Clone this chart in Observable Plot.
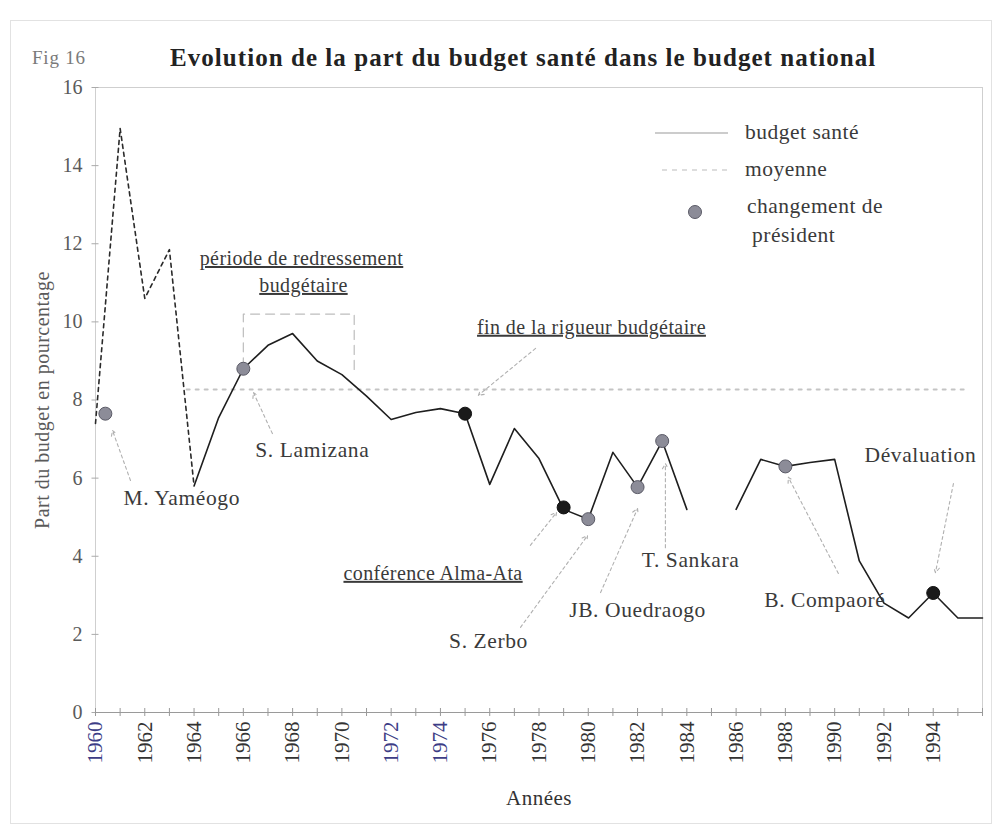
<!DOCTYPE html>
<html><head><meta charset="utf-8">
<script src="https://cdn.jsdelivr.net/npm/d3@7"></script>
<script src="https://cdn.jsdelivr.net/npm/@observablehq/plot@0.6"></script>
<style>
body{margin:0;background:#fff;font-family:"Liberation Serif","Times New Roman",serif;}
#wrap{position:relative;width:1002px;height:831px;overflow:hidden;background:#fff;}
#chart{position:absolute;left:0;top:0;}
.ov{position:absolute;white-space:nowrap;line-height:1;}
.ul text{text-decoration:underline;letter-spacing:0.4px;}
.anno text{letter-spacing:0.6px;}
#legend text{letter-spacing:0.5px;}
</style></head><body>
<div id="wrap">
  <div id="chart"></div>
  <div style="position:absolute;left:10px;top:20px;width:980px;height:802px;border:1px solid #e2e2e2;"></div>
  <div class="ov" id="fig" style="left:32px;top:48px;font-size:19px;letter-spacing:0.8px;color:#7a7a7a;"></div>
  <div class="ov" id="title" style="left:170px;top:45px;font-size:25px;letter-spacing:1.05px;font-weight:bold;color:#222;"></div>
  <svg id="legend" style="position:absolute;left:640px;top:110px;" width="300" height="140"></svg>
</div>
<script>
// ---- data ----
const titleText = "Evolution de la part du budget santé dans le budget national";
const figText = "Fig 16";
const yAxisTitle = "Part du budget en pourcentage";
const xAxisTitle = "Années";

const budgetYears = [1964,1965,1966,1967,1968,1969,1970,1971,1972,1973,1974,1975,1976,1977,1978,1979,1980,1981,1982,1983,1984,1985,1986,1987,1988,1989,1990,1991,1992,1993,1994,1995,1996];
const budgetValues = [5.8,7.55,8.8,9.4,9.7,9.0,8.65,8.1,7.5,7.68,7.78,7.65,5.84,7.27,6.5,5.2,4.95,6.66,5.77,6.95,5.2,null,5.2,6.48,6.3,6.4,6.48,3.88,2.8,2.42,3.06,2.42,2.42];

const earlyYears = [1960,1961,1962,1963,1964];
const earlyValues = [7.4,14.95,10.6,11.85,5.8];

const meanValue = 8.27;
const meanSpan = [1963.7, 1995.4];

const presidentYears = [1960.4,1966,1975,1979,1980,1982,1983,1988,1994];
const presidentValues = [7.65,8.8,7.65,5.25,4.95,5.77,6.95,6.3,3.06];
const presidentTone = ["gris","gris","noir","noir","gris","gris","gris","gris","noir"];

const periodBoxYears = [1966,1966,1970.5,1970.5];
const periodBoxValues = [8.85,10.2,10.2,8.75];

const yTicks = [0,2,4,6,8,10,12,14,16];
const tickYears = d3.range(1960, 1997);
const labelYears = d3.range(1960, 1995, 2);
const blueLabelYears = [1960,1972,1974];

const legendLabels = ["budget santé","moyenne","changement de","président"];

// annotation texts and their placement (x in years, y in %)
const annotationTexts = ["M. Yaméogo","S. Lamizana","S. Zerbo","JB. Ouedraogo","T. Sankara","B. Compaoré","Dévaluation"];
const annotationX = [1963.5,1968.8,1975.95,1982.0,1984.15,1989.6,1993.48];
const annotationY = [5.5,6.71,1.84,2.61,3.89,2.87,6.58];

const underlinedTexts = ["période de redressement","budgétaire","fin de la rigueur budgétaire","conférence Alma-Ata"];
const underlinedX = [1968.36,1968.44,1980.13,1973.7];
const underlinedY = [11.62,10.93,9.86,3.56];

const arrowFromX = [1961.42,1967.18,1977.86,1977.65,1977.25,1980.5,1983.13,1990.15,1994.82];
const arrowFromY = [5.94,7.14,9.32,4.28,2.18,3.07,4.22,3.56,5.86];
const arrowToX   = [1960.69,1966.41,1975.54,1978.71,1979.97,1982.0,1983.13,1988.12,1994.09];
const arrowToY   = [7.22,8.19,8.12,5.12,4.53,5.22,6.37,6.02,3.58];

// ---- build tables ----
const budget = budgetYears.map((y,i)=>({year:y, value:budgetValues[i]}));
const early = earlyYears.map((y,i)=>({year:y, value:earlyValues[i]}));
const mean = meanSpan.map(y=>({year:y, value:meanValue}));
const presidents = presidentYears.map((y,i)=>({year:y, value:presidentValues[i], tone:presidentTone[i]}));
const box = periodBoxYears.map((y,i)=>({year:y, value:periodBoxValues[i]}));
const annos = annotationTexts.map((t,i)=>({text:t, x:annotationX[i], y:annotationY[i]}));
const ulAnnos = underlinedTexts.map((t,i)=>({text:t, x:underlinedX[i], y:underlinedY[i]}));
const arrows = arrowFromX.map((x,i)=>({x1:x, y1:arrowFromY[i], x2:arrowToX[i], y2:arrowToY[i]}));

document.getElementById("title").textContent = titleText;
document.getElementById("fig").textContent = figText;

const serif = "Liberation Serif, Times New Roman, serif";

const chart = Plot.plot({
  width: 1002, height: 831,
  marginLeft: 95, marginRight: 20, marginTop: 87, marginBottom: 119,
  style: {fontFamily: serif, fontSize: "19px", background: "transparent", color: "#444"},
  x: {domain: [1960, 1996], label: null},
  y: {domain: [0, 16], label: null},
  marks: [
    Plot.frame({stroke: "#cfcfcf"}),
    Plot.axisY({ticks: yTicks, tickSize: 7, dx: 3.5, tickPadding: 9.5, tickFormat: d => String(d), fill: "#5a5a5a", stroke: "#aaa", fontSize: 20,
      label: yAxisTitle, labelAnchor: "center", labelOffset: 61, labelArrow: "none"}),
    Plot.ruleY([0], {stroke: "#9a9a9a"}),
    Plot.axisX({ticks: tickYears, tickSize: 8, dy: -4, text: null, stroke: "#999"}),
    Plot.axisX({ticks: labelYears.filter(y => !blueLabelYears.includes(y)), tickSize: 0, tickRotate: -90, tickPadding: 9, tickFormat: d => String(d), fill: "#333", fontSize: 21,
      label: xAxisTitle, labelAnchor: "center", labelOffset: 92, labelArrow: "none"}),
    Plot.axisX({ticks: blueLabelYears, tickSize: 0, tickRotate: -90, tickPadding: 9, tickFormat: d => String(d), fill: "#3d3d86", fontSize: 21, label: null}),
    Plot.line(mean, {x: "year", y: "value", stroke: "#c4c4c4", strokeWidth: 2, strokeDasharray: "3,6"}),
    Plot.line(box, {x: "year", y: "value", stroke: "#bdbdbd", strokeWidth: 1.2, strokeDasharray: "9,6"}),
    Plot.line(early, {x: "year", y: "value", stroke: "#2a2a2a", strokeWidth: 1.6, strokeDasharray: "4,4"}),
    Plot.line(budget, {x: "year", y: "value", stroke: "#1e1e1e", strokeWidth: 1.6}),
    Plot.arrow(arrows, {x1: "x1", y1: "y1", x2: "x2", y2: "y2", stroke: "#b0b0b0", strokeWidth: 1.1, strokeDasharray: "3,3", headLength: 8}),
    Plot.dot(presidents, {x: "year", y: "value", r: 6.5, fill: d => d.tone === "noir" ? "#1a1a1a" : "#8c8c98", stroke: d => d.tone === "noir" ? "#111" : "#5a5a66", strokeWidth: 1}),
    Plot.text(annos, {x: "x", y: "y", text: "text", fontSize: 21.5, fill: "#3a3a3a", className: "anno"}),
    Plot.text(ulAnnos, {x: "x", y: "y", text: "text", fontSize: 20, fill: "#3a3a3a", className: "ul"})
  ]
});
document.getElementById("chart").appendChild(chart);
chart.querySelectorAll("[aria-label='y-axis label'] text, [aria-label='x-axis label'] text").forEach(t => t.style.letterSpacing = "0.5px");

// legend (decoration)
const lg = d3.select("#legend");
lg.append("line").attr("x1",15).attr("x2",88).attr("y1",23).attr("y2",23).attr("stroke","#9a9a9a").attr("stroke-width",1.2);
lg.append("line").attr("x1",22).attr("x2",90).attr("y1",60).attr("y2",60).attr("stroke","#bbb").attr("stroke-width",1.2).attr("stroke-dasharray","5,5");
lg.append("circle").attr("cx",55).attr("cy",102).attr("r",6.5).attr("fill","#8c8c98").attr("stroke","#5a5a66");
const lt = [[105,21],[105,58],[107,95],[112,124]];
legendLabels.forEach((t,i)=>{
  lg.append("text").attr("x",lt[i][0]).attr("y",lt[i][1]).attr("dy","0.35em")
    .attr("font-family",serif).attr("font-size",21.5).attr("fill","#3a3a3a").text(t);
});
</script>
</body></html>
